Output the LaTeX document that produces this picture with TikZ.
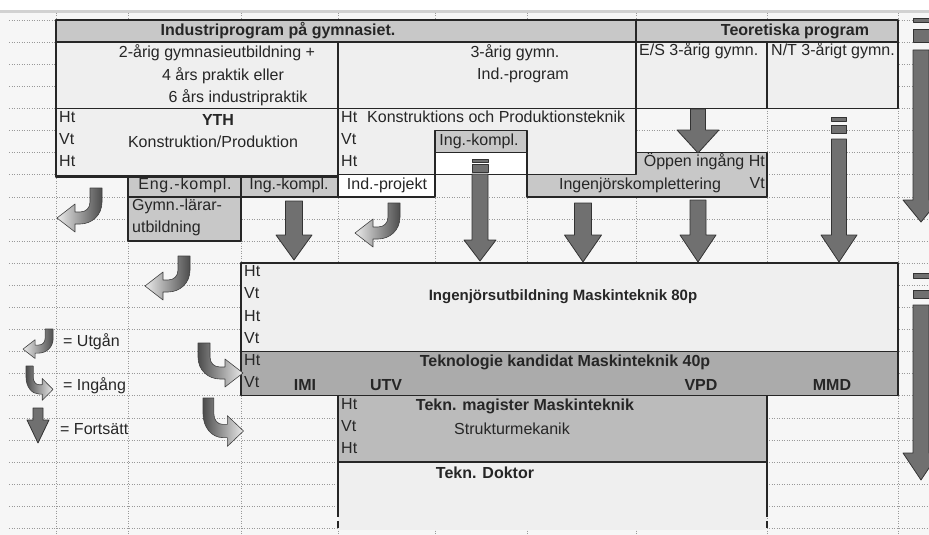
\documentclass[tikz,border=0pt]{standalone}
\usepackage{fontspec}
\setmainfont{Liberation Sans}
\definecolor{ark}{HTML}{F6F6F6}
\definecolor{ljus}{HTML}{EFEFEF}
\definecolor{mellan}{HTML}{C8C8C8}
\definecolor{magfarg}{HTML}{BBBBBB}
\definecolor{kandfarg}{HTML}{ABABAB}
\definecolor{pilfyll}{HTML}{707070}

\newcommand\storlek{\fontsize{16}{18}\selectfont}
\newcommand\pilned[6]{\draw[blockpil] (#1-#5,#2) -- (#1+#5,#2) -- (#1+#5,#3) -- (#1+#6,#3) -- (#1,#4) -- (#1-#6,#3) -- (#1-#5,#3) -- cycle;}
\newcommand\pilbit[4]{\draw[blockpil] (#1-#4,#2) rectangle (#1+#4,#3);}

\tikzset{
  ruta/.style={draw=black!85, line width=1.4pt},
  tjock/.style={draw=black!85, line width=2.6pt},
  rutnat/.style={draw=black!40, dotted, line width=0.5pt},
  txt/.style={inner sep=0pt, text=black!85, font=\storlek},
  fet/.style={txt, font=\storlek\bfseries},
  blockpil/.style={draw=black!80, line width=0.8pt, fill=pilfyll},
  utgang/.pic={
    \draw[draw=black!75, line width=0.6pt, left color=black!8, right color=black!70]
      (33,0) -- (45,0) -- (45,14) .. controls (45,27) and (35,36) .. (23,36) -- (18,36) -- (18,44) -- (0,30)
      -- (18,16) -- (18,24) -- (23,24) .. controls (29,24) and (33,20) .. (33,14) -- cycle;
  },
  ingang/.pic={
    \draw[draw=black!75, line width=0.6pt, left color=black!70, right color=black!8]
      (12,0) -- (0,0) -- (0,14) .. controls (0,27) and (10,36) .. (22,36) -- (27,36) -- (27,44) -- (45,30)
      -- (27,16) -- (27,24) -- (22,24) .. controls (16,24) and (12,20) .. (12,14) -- cycle;
  }
}

\begin{document}
\begin{tikzpicture}[x=1pt,y=-1pt,line join=round]
\useasboundingbox (0,0) rectangle (929,535);
\fill[ark] (0,10) rectangle (929,535);
\fill[black!18] (0,10) rectangle (929,13);
% rutnät
\foreach \k in {0,...,23} \draw[rutnat] (9,20+22.1*\k) -- (929,20+22.1*\k);
\foreach \x in {56,128,241,338,435,527,636,767,898} \draw[rutnat] (\x,13) -- (\x,535);

% industriprogram
\draw[ruta, fill=mellan] (56,20) rectangle (636,42.1);
\draw[ruta, fill=ljus] (56,42.1) rectangle (338,108.4);
\draw[ruta, fill=ljus] (338,42.1) rectangle (636,108.4);
\draw[ruta, fill=ljus] (56,108.4) rectangle (338,176);
\draw[ruta, fill=ljus] (338,108.4) rectangle (636,174.7);
\draw[ruta, fill=mellan] (435,130.5) rectangle (527,152.6);
\draw[ruta, fill=white] (435,152.6) rectangle (527,174.7);
\draw[ruta, fill=mellan] (128,176) rectangle (241,196.8);
\draw[ruta, fill=mellan] (241,176) rectangle (338,196.8);
\draw[ruta, fill=mellan] (128,196.8) rectangle (241,241);
\draw[ruta, fill=white] (338,174.7) rectangle (435,196.8);
\draw[tjock] (56,20) -- (56,177) -- (338,177) (338,42.1) -- (338,197.5) (56,20) -- (636,20);

% teoretiska program
\draw[ruta, fill=mellan] (636,20) rectangle (898,42.1);
\draw[ruta, fill=ljus] (636,42.1) rectangle (767,108.4);
\draw[ruta, fill=ljus] (767,42.1) rectangle (898,108.4);
\draw[ruta, fill=mellan] (527,174.7) -- (636,174.7) -- (636,152.6) -- (767,152.6) -- (767,196.8) -- (527,196.8) -- cycle;

% högskolan
\draw[ruta, fill=ljus] (241,263.1) rectangle (898,351.5);
\draw[ruta, fill=kandfarg] (241,351.5) rectangle (898,395.7);
\fill[ljus] (338,462) rectangle (767,530);
\draw[ruta, fill=magfarg] (338,395.7) rectangle (767,462);
\draw[tjock] (338,395.7) -- (338,517) (338,521) -- (338,528);
\draw[ruta] (767,462) -- (767,517) (767,521) -- (767,528);

\node[fet] (indrubrik) at (278,31.1) {Industriprogram på gymnasiet.};
\node[fet] (teorubrik) at (795,31.1) {Teoretiska program};
\node[txt] (tvaarig1) at (217,53.2) {2-årig gymnasieutbildning +};
\node[txt] (tvaarig2) at (223,75.3) {4 års praktik eller};
\node[txt] (tvaarig3) at (238,97.4) {6 års industripraktik};
\node[txt] (trearig1) at (515,53.2) {3-årig gymn.};
\node[txt] (trearig2) at (523,75.3) {Ind.-program};
\node[txt, anchor=mid west] (es) at (639,53.2) {E/S 3-årig gymn.};
\node[txt, anchor=mid west] (nt) at (771,53.2) {N/T 3-årigt gymn.};

\node[txt, anchor=mid west] (yht1) at (59,119.5) {Ht};
\node[txt, anchor=mid west] (yvt) at (59,141.6) {Vt};
\node[txt, anchor=mid west] (yht2) at (59,163.7) {Ht};
\node[fet] (yth) at (218,119.5) {YTH};
\node[txt] (konpro) at (213,141.6) {Konstruktion/Produktion};
\node[txt, anchor=mid west] (kht1) at (341,119.5) {Ht};
\node[txt, anchor=mid west] (kpt) at (367,119.5) {Konstruktions och Produktionsteknik};
\node[txt, anchor=mid west] (kvt) at (341,141.6) {Vt};
\node[txt, anchor=mid west] (kht2) at (341,163.7) {Ht};
\node[txt] (ingkompl1) at (479,141.6) {Ing.-kompl.};
\node[txt] (engkompl) at (185,185.8) {\addfontfeatures{LetterSpace=5}Eng.-kompl.};
\node[txt] (ingkompl2) at (289,185.8) {Ing.-kompl.};
\node[txt, anchor=mid west] (gymn1) at (132,207.9) {Gymn.-lärar-};
\node[txt, anchor=mid west] (gymn2) at (132,230) {utbildning};
\node[txt] (indprojekt) at (387,185.8) {Ind.-projekt};
\node[txt, anchor=mid east] (oppen) at (765,163.7) {Öppen ingång Ht};
\node[txt] (ingkomp) at (640,185.8) {Ingenjörskomplettering};
\node[txt, anchor=mid east] (ingkompvt) at (765,185.8) {Vt};

\foreach \t/\y [count=\i] in {Ht/274.2,Vt/296.3,Ht/318.4,Vt/340.5,Ht/362.6,Vt/384.7}
  \node[txt, anchor=mid west] (iu\i) at (244,\y) {\t};
\node[fet, font=\fontsize{15}{17}\selectfont\bfseries] (ingutb) at (563,296.3) {Ingenjörsutbildning Maskinteknik 80p};
\node[fet] (teknkand) at (565,362.6) {Teknologie kandidat Maskinteknik 40p};
\node[fet] (imi) at (305,384.7) {IMI};
\node[fet] (utv) at (386,384.7) {UTV};
\node[fet] (vpd) at (701,384.7) {VPD};
\node[fet] (mmd) at (832,384.7) {MMD};
\foreach \t/\y [count=\i] in {Ht/406.8,Vt/428.9,Ht/451}
  \node[txt, anchor=mid west] (tm\i) at (341,\y) {\t};
\node[fet] (teknmag) at (525,406.8) {Tekn. magister Maskinteknik};
\node[txt] (struktur) at (512,428.9) {Strukturmekanik};
\node[fet] (doktor) at (485,473.1) {Tekn. Doktor};

% fortsätt-pilar
\pilned{698}{109}{130}{153}{7.5}{21}
\pilbit{839}{117}{121}{7.5}
\pilbit{839}{125}{133}{7.5}
\pilned{839}{139}{235}{262}{7.5}{18}
\pilbit{480}{159}{162}{8}
\pilbit{480}{164}{172}{8}
\pilned{480}{174}{240}{261}{8}{16}
\pilned{294}{201}{235}{260}{8.5}{18}
\pilned{583}{203}{235}{262}{8.5}{18.5}
\pilned{698}{200}{235}{262}{8}{18}
\pilbit{921}{18}{22}{8}
\pilbit{921}{29}{42}{8}
\pilned{921}{50}{200}{222}{8}{18}
\pilbit{921}{273}{278}{8}
\pilbit{921}{290}{298}{8}
\pilned{921}{305}{453}{480}{8}{18}

% utgång / ingång
\path (57,188) pic{utgang}
      (145,256) pic{utgang}
      (355,203) pic{utgang}
      (198,343) pic{ingang}
      (203,398) pic[xscale=.9,yscale=1.1]{ingang};

% teckenförklaring
\path (23,329) pic[scale=.67]{utgang}
      (26,366) pic[xscale=.6,yscale=.78]{ingang};
\pilned{38}{408}{420}{443}{5}{11}
\node[txt, anchor=mid west] (utgan) at (63,344) {= Utgån};
\node[txt, anchor=mid west] (ingang) at (63,388) {= Ingång};
\node[txt, anchor=mid west] (fortsatt) at (60,432) {= Fortsätt};
\end{tikzpicture}
\end{document}
